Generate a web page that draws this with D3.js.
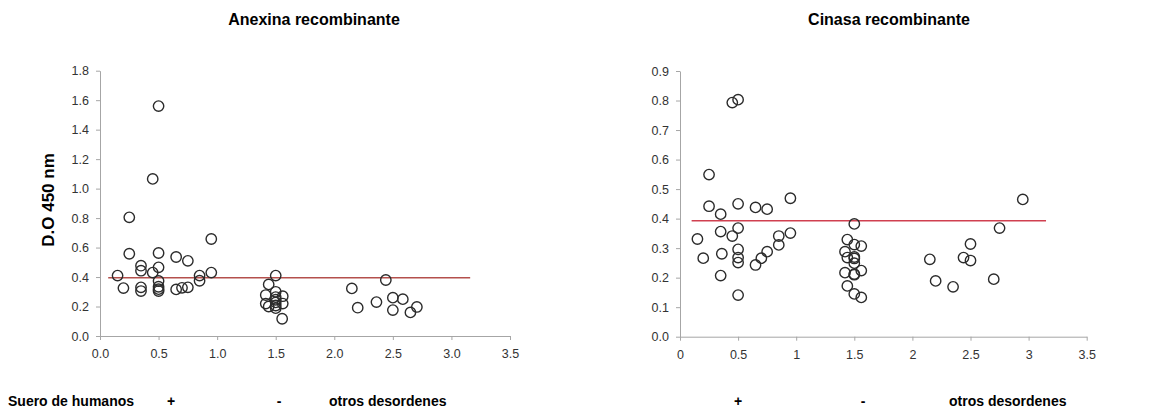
<!DOCTYPE html>
<html>
<head>
<meta charset="utf-8">
<script src="https://cdn.jsdelivr.net/npm/d3@7"></script>
<style>
  body { margin: 0; background: #fff; }
  text { font-family: "Liberation Sans", Arial, sans-serif; }
</style>
</head>
<body>
<div id="chart"></div>
<script>
// Anexina recombinante: x position (group jitter) and D.O 450 nm
var anexinaX = [0.15, 0.2, 0.25, 0.25, 0.35, 0.35, 0.35, 0.35, 0.45, 0.45, 0.5, 0.5, 0.5, 0.5, 0.5, 0.5, 0.5,
    0.65, 0.65, 0.7, 0.75, 0.75, 0.85, 0.85, 0.95, 0.95,
    1.5, 1.44, 1.415, 1.5, 1.56, 1.415, 1.44, 1.5, 1.5, 1.5, 1.5, 1.5, 1.56, 1.555,
    2.15, 2.2, 2.36, 2.44, 2.5, 2.5, 2.585, 2.65, 2.705];
var anexinaY = [0.41, 0.325, 0.805, 0.558, 0.477, 0.443, 0.33, 0.305, 1.066, 0.43, 1.56, 0.563, 0.466, 0.373, 0.334, 0.318, 0.305,
    0.536, 0.316, 0.327, 0.51, 0.33, 0.41, 0.375, 0.658, 0.43,
    0.41, 0.35, 0.278, 0.30, 0.27, 0.22, 0.2, 0.264, 0.246, 0.228, 0.207, 0.189, 0.22, 0.117,
    0.323, 0.192, 0.23, 0.38, 0.26, 0.176, 0.25, 0.16, 0.197];

// Cinasa recombinante
var cinasaX = [0.15, 0.2, 0.25, 0.25, 0.35, 0.35, 0.36, 0.35, 0.45, 0.45, 0.5, 0.5, 0.5, 0.5, 0.5, 0.5, 0.5,
    0.65, 0.65, 0.7, 0.75, 0.75, 0.85, 0.85, 0.95, 0.95,
    1.5, 1.44, 1.5, 1.56, 1.42, 1.44, 1.5, 1.5, 1.5, 1.42, 1.5, 1.5, 1.56, 1.44, 1.5, 1.56,
    2.15, 2.2, 2.35, 2.44, 2.5, 2.5, 2.7, 2.75, 2.95];
var cinasaY = [0.331, 0.266, 0.549, 0.442, 0.415, 0.356, 0.281, 0.207, 0.793, 0.341, 0.803, 0.45, 0.368, 0.296, 0.268, 0.251, 0.141,
    0.438, 0.243, 0.266, 0.432, 0.288, 0.341, 0.311, 0.469, 0.351,
    0.382, 0.329, 0.312, 0.307, 0.288, 0.268, 0.27, 0.265, 0.249, 0.217, 0.212, 0.21, 0.224, 0.172, 0.145, 0.133,
    0.262, 0.189, 0.169, 0.268, 0.314, 0.258, 0.195, 0.368, 0.465];

// cut-off lines (x start, x end, value)
var anexinaCutoff = [0.07, 3.16, 0.395];
var cinasaCutoff = [0.1, 3.15, 0.393];

var xTicks = [0, 0.5, 1, 1.5, 2, 2.5, 3, 3.5];
var anexinaYTicks = [0, 0.2, 0.4, 0.6, 0.8, 1.0, 1.2, 1.4, 1.6, 1.8];
var cinasaYTicks = [0, 0.1, 0.2, 0.3, 0.4, 0.5, 0.6, 0.7, 0.8, 0.9];
var groupLabels = ["+", "-", "otros desordenes"];

function init() {
    const w = 1165;
    const h = 414;

    var svg = d3.select("#chart")
        .append("svg")
        .attr("width", w)
        .attr("height", h);

    function panel(opts) {
        var x = d3.scaleLinear().domain([0, 3.5]).range([opts.left, opts.right]);
        var y = d3.scaleLinear().domain([0, opts.ymax]).range([opts.bottom, opts.top]);

        var g = svg.append("g");

        // title
        g.append("text")
            .attr("x", opts.titleX)
            .attr("y", 25)
            .attr("text-anchor", "middle")
            .style("font-size", "16px")
            .style("font-weight", "bold")
            .text(opts.title);

        // y axis
        var ya = g.append("g")
            .attr("transform", "translate(" + opts.left + ",0)")
            .call(d3.axisLeft(y).tickValues(opts.yTicks).tickFormat(d3.format(".1f"))
                .tickSize(4).tickSizeOuter(0).tickPadding(7));
        // x axis
        var xa = g.append("g")
            .attr("transform", "translate(0," + opts.bottom + ")")
            .call(d3.axisBottom(x).tickValues(xTicks).tickFormat(opts.xFormat)
                .tickSize(4).tickSizeOuter(0).tickPadding(9));

        [ya, xa].forEach(function (a) {
            a.selectAll("path, line").attr("stroke", "#a6a6a6");
            a.selectAll("text")
                .attr("fill", "#333")
                .style("font-size", "12.5px")
                .style("font-family", "'Liberation Sans', Arial, sans-serif");
        });

        // cut-off line
        g.append("line")
            .attr("x1", x(opts.cutoff[0]))
            .attr("x2", x(opts.cutoff[1]))
            .attr("y1", y(opts.cutoff[2]))
            .attr("y2", y(opts.cutoff[2]))
            .attr("stroke", opts.lineColor)
            .attr("stroke-width", 1.6);

        // points
        g.selectAll("circle.pt")
            .data(opts.xs.map(function (d, i) { return [d, opts.ys[i]]; }))
            .enter()
            .append("circle")
            .attr("class", "pt")
            .attr("cx", function (d) { return x(d[0]); })
            .attr("cy", function (d) { return y(d[1]); })
            .attr("r", 5.2)
            .attr("fill", "none")
            .attr("stroke", "#2b2b2b")
            .attr("stroke-width", 1.4);

        // group labels under the axis
        g.selectAll("text.grp")
            .data(groupLabels)
            .enter()
            .append("text")
            .attr("class", "grp")
            .attr("x", function (d, i) { return opts.groupX[i]; })
            .attr("y", 406)
            .attr("text-anchor", function (d, i) { return i == 2 ? "start" : "middle"; })
            .style("font-size", "14px")
            .style("font-weight", "bold")
            .text(function (d) { return d; });

        return g;
    }

    panel({
        title: "Anexina recombinante", titleX: 314,
        left: 100, right: 510, top: 70.7, bottom: 336,
        ymax: 1.8, yTicks: anexinaYTicks,
        xFormat: d3.format(".1f"),
        xs: anexinaX, ys: anexinaY,
        cutoff: anexinaCutoff, lineColor: "#b4504c",
        groupX: [171, 279, 329]
    });

    panel({
        title: "Cinasa recombinante", titleX: 889,
        left: 680, right: 1086.7, top: 71, bottom: 336.7,
        ymax: 0.9, yTicks: cinasaYTicks,
        xFormat: function (d) { return d3.format("")(d); },
        xs: cinasaX, ys: cinasaY,
        cutoff: cinasaCutoff, lineColor: "#d04050",
        groupX: [738, 863, 949]
    });

    // y axis title (left chart only)
    svg.append("text")
        .attr("transform", "translate(54,200) rotate(-90)")
        .attr("text-anchor", "middle")
        .style("font-size", "17px")
        .style("font-weight", "bold")
        .text("D.O 450 nm");

    svg.append("text")
        .attr("x", 8)
        .attr("y", 406)
        .style("font-size", "14px")
        .style("font-weight", "bold")
        .text("Suero de humanos");
}
window.onload = init;
</script>
</body>
</html>
